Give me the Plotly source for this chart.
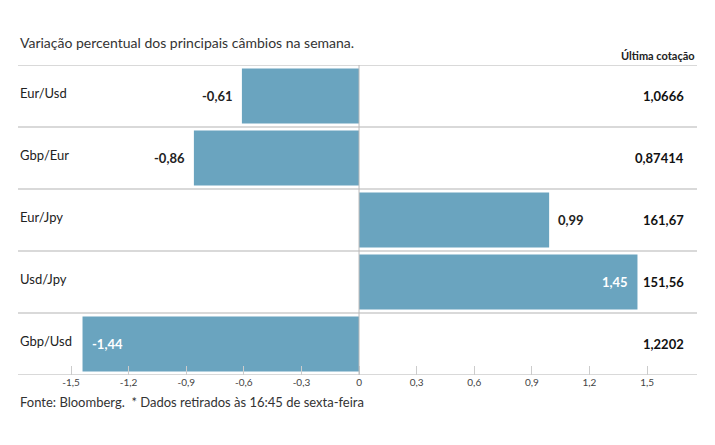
import plotly.graph_objects as go

categories = ["Eur/Usd", "Gbp/Eur", "Eur/Jpy", "Usd/Jpy", "Gbp/Usd"]
variation = [-0.61, -0.86, 0.99, 1.45, -1.44]
last_quote = ["1,0666", "0,87414", "161,67", "151,56", "1,2202"]
tick_vals = [-1.5, -1.2, -0.9, -0.6, -0.3, 0, 0.3, 0.6, 0.9, 1.2, 1.5]
tick_text = ["-1,5", "-1,2", "-0,9", "-0,6", "-0,3", "0", "0,3", "0,6", "0,9", "1,2", "1,5"]
inside_labels = [False, False, False, True, True]

FONT = "Lato"
BAR = "#6aa4bf"
LINE = "#cccccc"

ypos = list(range(len(categories)))

fig = go.Figure()
fig.add_trace(go.Bar(
    x=variation, y=ypos, orientation="h", width=0.89,
    marker=dict(color=BAR, line=dict(width=0)),
    hoverinfo="skip",
))

def fmt(v):
    return ("%.2f" % v).replace(".", ",")

annotations = []
for i, (v, inside) in enumerate(zip(variation, inside_labels)):
    if inside:
        anchor = "right" if v > 0 else "left"
        shift = -7 if v > 0 else 7
        color = "white"
    else:
        anchor = "left" if v > 0 else "right"
        shift = 7 if v > 0 else -7
        color = "#222222"
    annotations.append(dict(x=v, y=i, xref="x", yref="y", text="<b>%s</b>" % fmt(v),
                            showarrow=False, xanchor=anchor, xshift=shift,
                            font=dict(family=FONT, size=13, color=color)))
    annotations.append(dict(x=0, y=i, xref="paper", yref="y", text=categories[i],
                            showarrow=False, xanchor="left", yshift=3,
                            font=dict(family=FONT, size=13, color="#222222")))
    annotations.append(dict(x=0.984, y=i, xref="paper", yref="y", text="<b>%s</b>" % last_quote[i],
                            showarrow=False, xanchor="right",
                            font=dict(family=FONT, size=13, color="#111111")))

annotations.append(dict(x=1, y=1, xref="paper", yref="paper", text="<b>Última cotação</b>",
                        showarrow=False, xanchor="right", yanchor="bottom", yshift=1,
                        font=dict(family=FONT, size=11, color="#222222")))
annotations.append(dict(x=0, y=1, xref="paper", yref="paper",
                        text="Variação percentual dos principais câmbios na semana.",
                        showarrow=False, xanchor="left", yanchor="bottom", yshift=12,
                        font=dict(family=FONT, size=14, color="#333333")))
annotations.append(dict(x=0, y=0, xref="paper", yref="paper",
                        text="Fonte: Bloomberg.  * Dados retirados às 16:45 de sexta-feira",
                        showarrow=False, xanchor="left", yanchor="top", yshift=-17,
                        font=dict(family=FONT, size=13, color="#333333")))

shapes = []
for b in [-0.5, 0.5, 1.5, 2.5, 3.5, 4.5]:
    shapes.append(dict(type="line", xref="paper", yref="y", x0=0, x1=1, y0=b, y1=b,
                       line=dict(color=LINE, width=1.3)))
shapes.append(dict(type="line", xref="x", yref="paper", x0=0, x1=0, y0=0, y1=1,
                   line=dict(color="#bbbbbb", width=1)))

fig.update_layout(
    width=707, height=437,
    margin=dict(l=10, r=18, t=57, b=70),
    paper_bgcolor="white", plot_bgcolor="white",
    showlegend=False,
    annotations=annotations, shapes=shapes,
    xaxis=dict(range=[-1.776, 1.76], tickvals=tick_vals, ticktext=tick_text,
               ticks="inside", ticklen=9, tickcolor="#cccccc", tickwidth=1,
               showgrid=False, zeroline=False, showline=False,
               tickfont=dict(family=FONT, size=10, color="#444444")),
    yaxis=dict(range=[4.5, -0.5], showticklabels=False, showgrid=False,
               zeroline=False, showline=False, ticks=""),
)

fig.write_html("out.html")
